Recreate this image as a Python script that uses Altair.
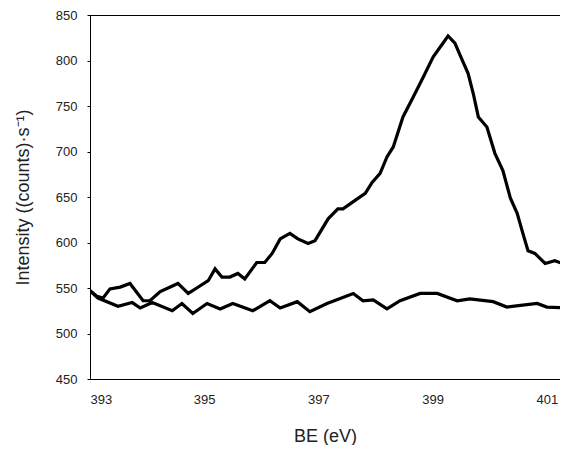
import altair as alt
import pandas as pd

# Upper (N 1s peak) spectrum
be_a = [393.00, 393.12, 393.23, 393.35, 393.53, 393.70, 393.93, 394.05, 394.23, 394.54,
        394.72, 394.87, 395.07, 395.19, 395.31, 395.45, 395.59, 395.71, 395.92, 396.06,
        396.19, 396.33, 396.50, 396.64, 396.82, 396.94, 397.17, 397.34, 397.43, 397.68,
        397.82, 397.94, 398.08, 398.20, 398.31, 398.48, 398.66, 398.83, 399.01, 399.18,
        399.27, 399.39, 399.48, 399.62, 399.71, 399.80, 399.95, 400.09, 400.23, 400.36,
        400.48, 400.58, 400.67, 400.79, 400.97, 401.14, 401.27, 401.35]
int_a = [547, 541, 539, 549, 551, 555, 536, 536, 546, 555,
         544, 550, 558, 571, 562, 562, 566, 560, 578, 578,
         588, 604, 610, 604, 599, 602, 626, 637, 637, 648,
         654, 666, 676, 694, 705, 738, 760, 781, 804, 819,
         827, 819, 806, 786, 764, 738, 727, 698, 679, 649,
         632, 610, 591, 588, 577, 580, 577, 569]

# Lower (flat) spectrum
be_b = [393.00, 393.14, 393.49, 393.74, 393.88, 394.09, 394.44, 394.61, 394.80, 395.05,
        395.28, 395.50, 395.85, 396.15, 396.33, 396.63, 396.85, 397.15, 397.61, 397.78,
        397.96, 398.20, 398.43, 398.78, 399.08, 399.43, 399.65, 400.06, 400.30, 400.83,
        401.00, 401.35]
int_b = [547, 539, 530, 534, 528, 534, 525, 533, 522, 533,
         527, 533, 525, 536, 528, 535, 524, 533, 544, 536,
         537, 527, 536, 544, 544, 536, 538, 535, 529, 533,
         529, 528]

x_ticks = [393, 395, 397, 399, 401]
y_ticks = [450, 500, 550, 600, 650, 700, 750, 800, 850]

df = pd.concat([
    pd.DataFrame({"BE": be_a, "I": int_a, "s": "a", "o": range(len(be_a))}),
    pd.DataFrame({"BE": be_b, "I": int_b, "s": "b", "o": range(len(be_b))}),
])

chart = alt.Chart(df).mark_line(color="black", strokeWidth=3.2, clip=True).encode(
    x=alt.X("BE:Q", scale=alt.Scale(domain=[393, 401.23], nice=False, zero=False),
            axis=alt.Axis(values=x_ticks, title="BE (eV)", grid=False, ticks=False,
                          labelPadding=14, titlePadding=21, format="d")),
    y=alt.Y("I:Q", scale=alt.Scale(domain=[450, 850], nice=False, zero=False),
            axis=alt.Axis(values=y_ticks, title="Intensity ((counts)·s⁻¹)", grid=False,
                          tickSize=3, labelPadding=10, titlePadding=23)),
    detail="s:N",
    order="o:Q",
).properties(
    width=470, height=364,
    padding={"left": 6, "top": 1, "right": 0, "bottom": 0},
).configure_axis(
    domainColor="black", tickColor="black", labelColor="#222", titleColor="#222",
    labelFont="Liberation Sans", titleFont="Liberation Sans",
    labelFontSize=13, titleFontSize=18, titleFontWeight="normal",
).configure_view(stroke="black", strokeWidth=1)

chart.save("out.html", embed_options={"renderer": "svg", "actions": False})
